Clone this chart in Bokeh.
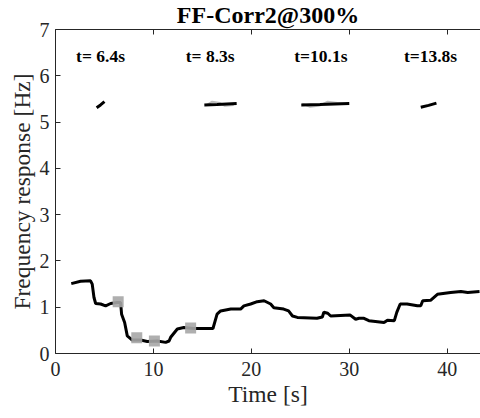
from bokeh.plotting import figure
from bokeh.models import LinearAxis, FixedTicker, Range1d, CustomJSTickFormatter
from bokeh.core.properties import value
from bokeh.embed import file_html
from bokeh.resources import INLINE

# main frequency response curve
time_s = [1.61, 2.56, 3.58, 3.75, 3.93, 4.10, 4.61, 5.12, 5.63, 6.3, 6.65, 6.75, 7.06, 7.33,
          7.84, 8.69, 9.37, 10.4, 11.25, 11.6, 11.76, 12.44, 13.1, 14.1, 16.08, 16.5, 16.86,
          17.9, 18.9, 19.24, 19.93, 20.6, 21.3, 21.97, 22.3, 23.3, 23.8, 24.2, 24.7, 26.7,
          27.25, 27.4, 27.8, 28.1, 30.1, 30.65, 31.0, 31.5, 32.0, 33.55, 33.9, 34.6, 34.85,
          35.2, 35.9, 36.95, 37.3, 37.5, 38.3, 39.0, 40.35, 41.4, 42.1, 43.3]
freq_hz = [1.51, 1.56, 1.57, 1.50, 1.21, 1.08, 1.07, 1.03, 1.08, 1.10, 1.10, 0.85, 0.67, 0.38,
           0.29, 0.29, 0.26, 0.27, 0.24, 0.27, 0.35, 0.53, 0.56, 0.54, 0.54, 0.85, 0.92,
           0.96, 0.96, 1.03, 1.07, 1.12, 1.14, 1.07, 0.99, 0.96, 0.92, 0.81, 0.78, 0.76,
           0.79, 0.89, 0.87, 0.81, 0.83, 0.74, 0.76, 0.76, 0.71, 0.67, 0.72, 0.71, 0.89,
           1.07, 1.07, 1.03, 1.03, 1.14, 1.15, 1.28, 1.32, 1.34, 1.32, 1.34]

# snapshot markers
snap_t = [6.4, 8.3, 10.1, 13.8]
snap_f = [1.12, 0.34, 0.27, 0.55]
snap_labels = ["t= 6.4s", "t= 8.3s", "t=10.1s", "t=13.8s"]
label_x = [4.6, 15.8, 27.1, 38.3]
label_y = [6.43, 6.43, 6.43, 6.43]

# mode traces near 5.4 Hz
mode_black_x = [[4.2, 4.6, 5.0], [15.2, 16.5, 17.5, 18.5], [25.1, 27.0, 28.5, 30.0], [37.3, 38.1, 38.9]]
mode_black_y = [[5.31, 5.37, 5.44], [5.37, 5.38, 5.39, 5.40], [5.37, 5.38, 5.39, 5.40], [5.32, 5.36, 5.41]]
mode_grey_x = [[15.4, 16.0, 16.8, 17.3, 18.2], [25.2, 26.0, 27.0, 27.8, 28.8, 29.6]]
mode_grey_y = [[5.36, 5.44, 5.41, 5.35, 5.37], [5.40, 5.33, 5.36, 5.44, 5.41, 5.39]]

FONT = "Liberation Serif"
GREY = "#A6A6A6"
AX = "#262626"

p = figure(width=480, height=418, output_backend="svg", toolbar_location=None,
           x_range=Range1d(0, 43.4), y_range=Range1d(0, 7),
           min_border_left=55, min_border_right=0, min_border_top=29, min_border_bottom=65,
           title="FF-Corr2@300%")
p.title.text_font = FONT
p.title.text_font_style = "bold"
p.title.text_font_size = "24px"
p.title.text_line_height = 1.0
p.title.align = "center"
p.title.text_color = "black"
p.title.standoff = 0
p.title.vertical_align = "top"

p.grid.visible = False
p.outline_line_color = None
p.background_fill_color = "white"

for ax in (p.xaxis[0], p.yaxis[0]):
    ax.major_tick_in = 5
    ax.major_tick_out = 0
    ax.minor_tick_line_color = None
    ax.axis_line_color = AX
    ax.major_tick_line_color = AX
    ax.major_label_text_font = FONT
    ax.major_label_text_font_size = "20px"
    ax.major_label_text_color = AX
    ax.axis_label_text_font = FONT
    ax.axis_label_text_font_size = "23.5px"
    ax.axis_label_text_font_style = "normal"
    ax.axis_label_text_color = AX

p.xaxis.ticker = FixedTicker(ticks=[0, 10, 20, 30, 40])
p.yaxis.ticker = FixedTicker(ticks=[0, 1, 2, 3, 4, 5, 6, 7])
p.xaxis.axis_label = "Time [s]"
p.yaxis.axis_label = "Frequency response [Hz]"
p.xaxis.major_label_standoff = 8
p.yaxis.major_label_standoff = 6
p.xaxis.axis_label_standoff = 2
p.yaxis.axis_label_standoff = 2

top = LinearAxis(ticker=FixedTicker(ticks=[0, 10, 20, 30, 40]),
                 formatter=CustomJSTickFormatter(code="return ''"))
top.major_tick_in = 5
top.major_tick_out = 0
top.minor_tick_line_color = None
top.major_label_standoff = 0
top.axis_line_color = AX
top.major_tick_line_color = AX
p.add_layout(top, "above")

p.line(time_s, freq_hz, line_color="black", line_width=3)
p.scatter(snap_t, snap_f, marker="square", size=11, fill_color=GREY, line_color=None, alpha=0.9)

p.multi_line(mode_grey_x, mode_grey_y, line_color="#BDBDBD", line_width=2)
p.multi_line(mode_black_x, mode_black_y, line_color="black", line_width=3)

p.text(label_x, label_y, text=snap_labels, text_font=value(FONT), text_font_style="bold",
       text_font_size="17.5px", text_align="center", text_baseline="middle", text_color="black")

open("out.html", "w").write(file_html(p, INLINE))
